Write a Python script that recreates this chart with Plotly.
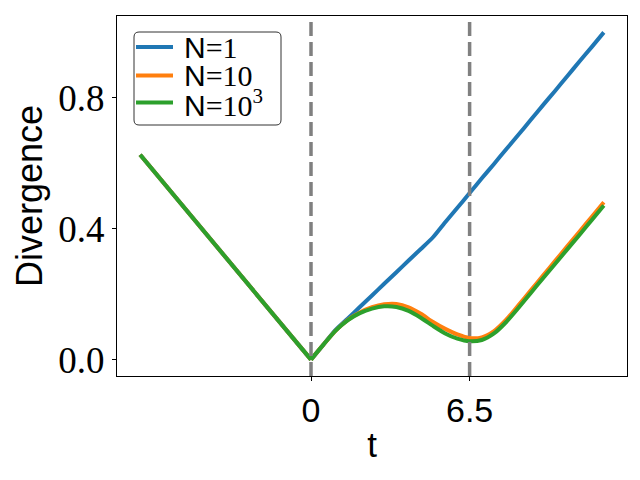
import plotly.graph_objects as go

# time grid
t = [-7, -6, -5, -4, -3, -2, -1, 0, 0.5, 1.0, 1.5, 2.0, 2.5, 3.0, 3.5, 4.0, 4.5,
     5.0, 5.5, 6.0, 6.5, 7.0, 7.5, 8.0, 8.5, 9.0, 9.5, 10.0, 10.5, 11.0, 11.5, 12.0]

div_n1 = [0.626, 0.537, 0.447, 0.358, 0.268, 0.179, 0.089, 0.0, 0.045, 0.090, 0.125,
          0.161, 0.196, 0.232, 0.267, 0.303, 0.338, 0.374, 0.420, 0.464, 0.509, 0.554,
          0.598, 0.643, 0.687, 0.732, 0.777, 0.821, 0.866, 0.911, 0.955, 1.0]

div_n10 = [0.626, 0.537, 0.447, 0.358, 0.268, 0.179, 0.089, 0.0, 0.045, 0.088, 0.121,
           0.144, 0.160, 0.169, 0.170, 0.160, 0.140, 0.115, 0.094, 0.077, 0.066, 0.068,
           0.087, 0.122, 0.166, 0.211, 0.256, 0.301, 0.346, 0.391, 0.436, 0.481]

div_n1000 = [0.626, 0.537, 0.447, 0.358, 0.268, 0.179, 0.089, 0.0, 0.045, 0.088, 0.120,
             0.142, 0.156, 0.163, 0.161, 0.149, 0.128, 0.103, 0.080, 0.064, 0.056, 0.060,
             0.080, 0.115, 0.158, 0.203, 0.248, 0.292, 0.337, 0.381, 0.426, 0.471]

SERIF = "Liberation Serif"
SANS = "Liberation Sans"
series_names = ["N<span style='font-family:%s'>=1</span>" % SERIF,
                "N<span style='font-family:%s'>=10</span>" % SERIF,
                "N<span style='font-family:%s'>=10<sup>3</sup></span>" % SERIF]
series_vals = [div_n1, div_n10, div_n1000]
colors = ["#1f77b4", "#ff7f0e", "#2ca02c"]

vlines = [0, 6.5]
x_ticks = [0, 6.5]
x_ticklabels = ["0", "6.5"]
y_ticks = [0.0, 0.4, 0.8]
y_ticklabels = ["0.0", "0.4", "0.8"]

fig = go.Figure()
i0 = t.index(0)
for name, vals, c in zip(series_names, series_vals, colors):
    # before t=0: straight branch (sharp corner at 0)
    fig.add_trace(go.Scatter(x=t[:i0 + 1], y=vals[:i0 + 1], mode="lines", name=name,
                             showlegend=False, line=dict(color=c, width=4)))
    # after t=0: smooth branch
    fig.add_trace(go.Scatter(x=t[i0:], y=vals[i0:], mode="lines", name=name,
                             showlegend=False,
                             line=dict(color=c, width=4, shape="spline", smoothing=0.7)))

for xv in vlines:
    fig.add_vline(x=xv, line=dict(color="#808080", width=3.5, dash="14px,6px"))

# ---- legend box (drawn manually for compact matplotlib-like layout) ----
W, H = 510.0, 360.0   # plot area size in px
def px(x):
    return (x - 117) / W
def py(y):
    return (376 - y) / H

bx0, bx1, by0, by1 = 134, 281, 32, 125
r = 5
path = (f"M {px(bx0 + r)} {py(by0)} L {px(bx1 - r)} {py(by0)} "
        f"Q {px(bx1)} {py(by0)} {px(bx1)} {py(by0 + r)} "
        f"L {px(bx1)} {py(by1 - r)} Q {px(bx1)} {py(by1)} {px(bx1 - r)} {py(by1)} "
        f"L {px(bx0 + r)} {py(by1)} Q {px(bx0)} {py(by1)} {px(bx0)} {py(by1 - r)} "
        f"L {px(bx0)} {py(by0 + r)} Q {px(bx0)} {py(by0)} {px(bx0 + r)} {py(by0)} Z")
fig.add_shape(type="path", path=path, xref="paper", yref="paper",
              line=dict(color="#333333", width=1), fillcolor="rgba(255,255,255,0.8)",
              layer="above")
entry_y = [47, 75.5, 102.5]
for name, c, ey in zip(series_names, colors, entry_y):
    fig.add_shape(type="line", xref="paper", yref="paper",
                  x0=px(136), x1=px(173), y0=py(ey), y1=py(ey),
                  line=dict(color=c, width=4), layer="above")
    fig.add_annotation(x=px(182), y=py(ey), xref="paper", yref="paper",
                       xanchor="left", yanchor="middle", showarrow=False, text=name,
                       font=dict(family=SANS, size=30, color="black"))

# page body has an 8px margin: figure is 632x472 placed at (8, 8)
fig.update_layout(
    width=632, height=472,
    margin=dict(l=109, r=13, t=8, b=104),
    paper_bgcolor="white", plot_bgcolor="white",
    showlegend=False,
    xaxis=dict(range=[-7.95, 12.95], tickvals=x_ticks, ticktext=x_ticklabels,
               automargin=False,
               showgrid=False, zeroline=False, showline=True, linecolor="black",
               linewidth=1, mirror=True, ticks="outside", ticklen=4, tickcolor="black",
               tickfont=dict(family=SANS, size=34, color="black"),
               title=dict(text="t", font=dict(family=SANS, size=35, color="black"),
                          standoff=4)),
    yaxis=dict(range=[-0.05, 1.05], tickvals=y_ticks, ticktext=y_ticklabels,
               automargin=False,
               showgrid=False, zeroline=False, showline=True, linecolor="black",
               linewidth=1, mirror=True, ticks="outside", ticklen=4, tickcolor="black",
               tickfont=dict(family=SERIF, size=37, color="black"),
               title=dict(text="Divergence", font=dict(family=SANS, size=36, color="black"),
                          standoff=4)),
)

fig.write_html("out.html")
